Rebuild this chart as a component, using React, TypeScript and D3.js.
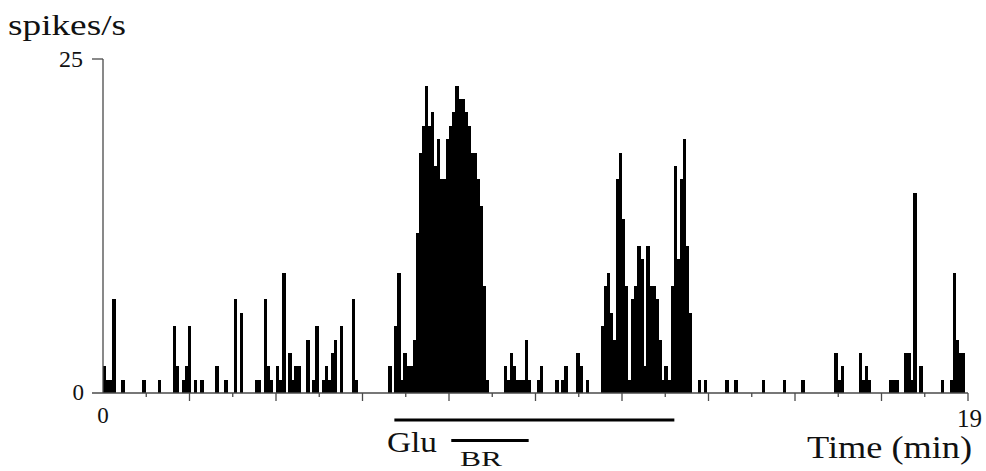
import React from "react";
import * as d3 from "d3";

// firing rate (spikes/s) in 4 s bins, one row per minute (15 bins)
const binSec = 4;
const rateByMinute = [
  [2, 1, 1, 7, 0, 0, 1, 0, 0, 0, 0, 0, 0, 1, 0],
  [0, 0, 0, 1, 0, 0, 0, 0, 5, 2, 0, 1, 2, 5, 0],
  [1, 0, 1, 0, 0, 0, 0, 2, 0, 0, 1, 0, 0, 7, 0],
  [6, 0, 0, 0, 0, 1, 1, 0, 7, 2, 1, 0, 2, 1, 9],
  [0, 3, 1, 2, 2, 0, 0, 4, 0, 1, 5, 0, 1, 2, 1],
  [3, 4, 0, 5, 0, 0, 0, 7, 1, 0, 0, 0, 0, 0, 0],
  [0, 0, 0, 0, 2, 0, 5, 9, 1, 3, 2, 2, 4, 12, 18],
  [20, 23, 20, 21, 17, 19, 16, 16, 19, 20, 21, 23, 22, 22, 21],
  [20, 18, 18, 16, 14, 8, 1, 0, 0, 0, 0, 0, 2, 1, 3],
  [2, 1, 1, 1, 4, 1, 0, 0, 1, 2, 0, 0, 0, 0, 1],
  [0, 1, 2, 0, 0, 0, 3, 2, 0, 1, 0, 0, 0, 0, 5],
  [8, 9, 6, 4, 16, 18, 13, 8, 1, 7, 8, 11, 10, 2, 11],
  [8, 8, 7, 4, 1, 2, 1, 8, 17, 10, 16, 19, 11, 6, 0],
  [0, 1, 0, 1, 0, 0, 0, 0, 0, 0, 1, 0, 0, 1, 0],
  [0, 0, 0, 0, 0, 0, 0, 1, 0, 0, 0, 0, 0, 0, 1],
  [0, 0, 0, 0, 0, 1, 0, 0, 0, 0, 0, 0, 0, 0, 0],
  [0, 3, 1, 2, 0, 0, 0, 0, 0, 3, 1, 2, 1, 0, 0],
  [0, 0, 0, 0, 1, 1, 1, 0, 0, 3, 3, 1, 15, 0, 2],
  [0, 0, 0, 0, 0, 0, 1, 0, 0, 1, 9, 4, 3, 3, 0],
];

// drug application periods (min)
const gluPeriod = [6.4, 12.55];
const brPeriod = [7.65, 9.35];

const xDomain = [0, 19];
const yDomain = [0, 25];
const tickStep = 0.95;

const W = 986;
const H = 471;
const font = "Liberation Serif, Times New Roman, serif";
const axisColor = "#4a4a4a";

export default function App() {
  const x = d3.scaleLinear().domain(xDomain).range([103, 968]);
  const y = d3.scaleLinear().domain(yDomain).range([393, 59]);

  const rates = rateByMinute.flat();
  const binMin = binSec / 60;
  const bw = x(binMin) - x(0);

  const ticks = d3.range(1, 21).map((k) => ({ t: k * tickStep, long: k % 2 === 0 }));

  return (
    <div style={{ position: "fixed", left: 0, top: 0 }}>
      <svg width={W} height={H} style={{ display: "block", background: "#fff" }}>
        {/* bars */}
        <g fill="#000" shapeRendering="crispEdges">
          {rates.map((v, i) =>
            v > 0 ? (
              <rect
                key={i}
                x={x(i * binMin)}
                y={y(v)}
                width={bw + 0.4}
                height={y(0) - y(v)}
              />
            ) : null
          )}
        </g>

        {/* axes */}
        <g stroke={axisColor} strokeWidth={1.3} fill="none">
          <line x1={x(0)} x2={x(0)} y1={y(25)} y2={y(0)} />
          <line x1={x(0) - 11} x2={x(0)} y1={y(25)} y2={y(25)} />
          <line x1={x(0) - 11} x2={x(19)} y1={y(0)} y2={y(0)} />
          {ticks.map((d) => (
            <line key={d.t} x1={x(d.t)} x2={x(d.t)} y1={y(0)} y2={y(0) + (d.long ? 8 : 4)} />
          ))}
        </g>

        {/* labels */}
        <g fontFamily={font} fill="#111">
          <text x={8} y={35} fontSize={30} textLength={118} lengthAdjust="spacingAndGlyphs">
            spikes/s
          </text>
          <text x={83} y={67} fontSize={24} textAnchor="end">
            25
          </text>
          <text x={84} y={400} fontSize={23} textAnchor="end">
            0
          </text>
          <text x={x(0)} y={423} fontSize={23} textAnchor="middle">
            0
          </text>
          <text x={982} y={427} fontSize={25} textAnchor="end">
            19
          </text>
          <text x={807} y={458} fontSize={31} textLength={165} lengthAdjust="spacingAndGlyphs">
            Time (min)
          </text>
          <text x={387} y={452} fontSize={29} textLength={50} lengthAdjust="spacingAndGlyphs">
            Glu
          </text>
          <text x={460} y={466} fontSize={21} textLength={42} lengthAdjust="spacingAndGlyphs">
            BR
          </text>
        </g>

        {/* application bars */}
        <g stroke="#000" strokeWidth={3}>
          <line x1={x(gluPeriod[0])} x2={x(gluPeriod[1])} y1={420} y2={420} />
          <line x1={x(brPeriod[0])} x2={x(brPeriod[1])} y1={440.5} y2={440.5} />
        </g>
      </svg>
    </div>
  );
}
